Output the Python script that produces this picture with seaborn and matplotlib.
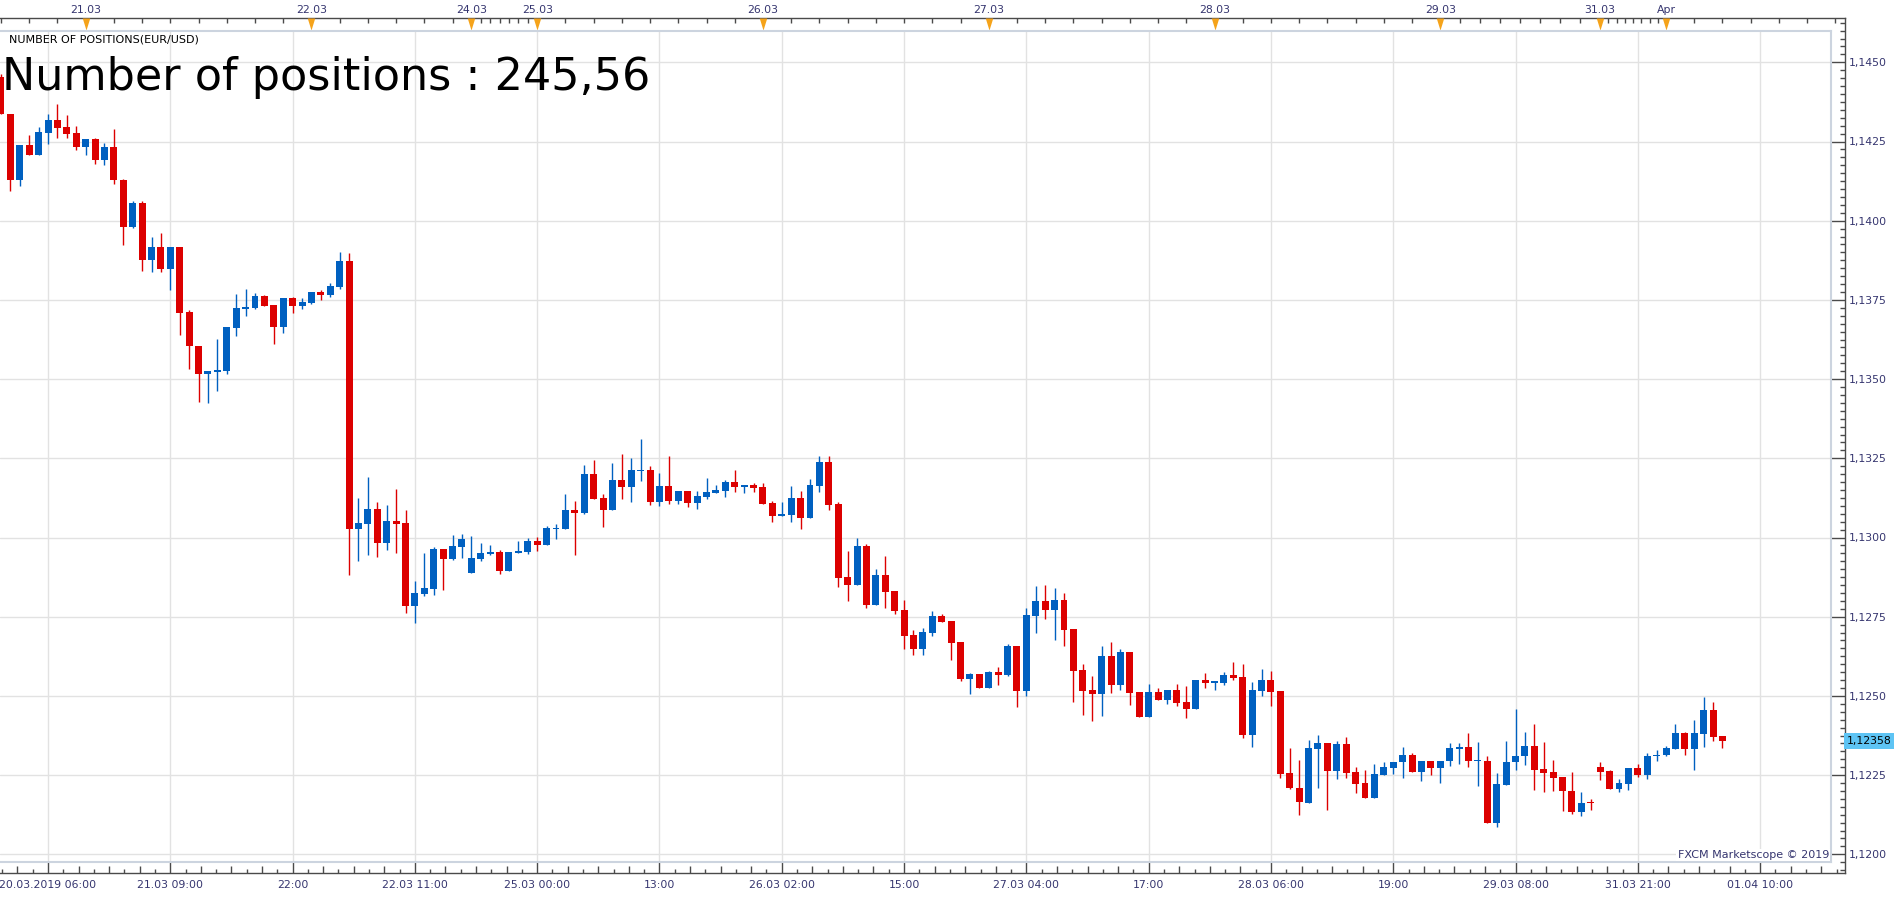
import numpy as np
import matplotlib
matplotlib.use("Agg")
import matplotlib.pyplot as plt
import matplotlib.transforms as mtransforms
from matplotlib.ticker import MultipleLocator, FuncFormatter
import seaborn as sns

# hourly EUR/USD candles (20.03.2019 - 01.04.2019)
opens = [1.14455, 1.14337, 1.14127, 1.14239, 1.14206, 1.14278, 1.14318, 1.14296, 1.14277, 1.14234,
         1.14258, 1.14193, 1.14233, 1.14129, 1.13981, 1.14056, 1.13877, 1.13917, 1.13848, 1.13917,
         1.13712, 1.13605, 1.13516, 1.13523, 1.13526, 1.13662, 1.13722, 1.13725, 1.13763, 1.13734,
         1.13665, 1.13756, 1.13731, 1.13741, 1.13775, 1.13766, 1.13791, 1.13873, 1.13027, 1.13043,
         1.13090, 1.12983, 1.13052, 1.13046, 1.12784, 1.12822, 1.12838, 1.12964, 1.12932, 1.12970,
         1.12888, 1.12932, 1.12948, 1.12954, 1.12894, 1.12951, 1.12954, 1.12989, 1.12976, 1.13027,
         1.13027, 1.13087, 1.13077, 1.13200, 1.13125, 1.13087, 1.13181, 1.13159, 1.13210, 1.13213,
         1.13112, 1.13162, 1.13115, 1.13147, 1.13109, 1.13128, 1.13140, 1.13147, 1.13175, 1.13159,
         1.13166, 1.13159, 1.13109, 1.13068, 1.13071, 1.13125, 1.13063, 1.13164, 1.13238, 1.13106,
         1.12875, 1.12851, 1.12973, 1.12788, 1.12882, 1.12831, 1.12771, 1.12692, 1.12649, 1.12700,
         1.12752, 1.12736, 1.12670, 1.12554, 1.12569, 1.12526, 1.12576, 1.12567, 1.12657, 1.12516,
         1.12753, 1.12800, 1.12772, 1.12803, 1.12711, 1.12582, 1.12519, 1.12507, 1.12626, 1.12535,
         1.12639, 1.12512, 1.12434, 1.12512, 1.12488, 1.12519, 1.12481, 1.12460, 1.12550, 1.12542,
         1.12542, 1.12566, 1.12560, 1.12377, 1.12516, 1.12550, 1.12516, 1.12257, 1.12210, 1.12161,
         1.12332, 1.12350, 1.12264, 1.12347, 1.12260, 1.12224, 1.12177, 1.12251, 1.12273, 1.12290,
         1.12314, 1.12261, 1.12295, 1.12273, 1.12293, 1.12332, 1.12340, 1.12293, 1.12295, 1.12099,
         1.12218, 1.12290, 1.12309, 1.12343, 1.12269, 1.12260, 1.12243, 1.12201, 1.12134, 1.12163,
         1.12276, 1.12263, 1.12205, 1.12222, 1.12272, 1.12251, 1.12309, 1.12312, 1.12332, 1.12382,
         1.12332, 1.12380, 1.12456, 1.12372]
highs = [1.14462, 1.14337, 1.14239, 1.14271, 1.14296, 1.14337, 1.14368, 1.14334, 1.14299, 1.14258,
         1.14262, 1.14246, 1.14290, 1.14132, 1.14063, 1.14063, 1.13949, 1.13962, 1.13917, 1.13917,
         1.13719, 1.13605, 1.13526, 1.13627, 1.13665, 1.13769, 1.13785, 1.13772, 1.13766, 1.13734,
         1.13756, 1.13760, 1.13756, 1.13775, 1.13782, 1.13804, 1.13902, 1.13898, 1.13125, 1.13191,
         1.13112, 1.13103, 1.13153, 1.13087, 1.12863, 1.12951, 1.12970, 1.12964, 1.13008, 1.13011,
         1.13005, 1.12983, 1.12976, 1.12961, 1.12954, 1.12989, 1.12998, 1.13002, 1.13036, 1.13043,
         1.13137, 1.13115, 1.13229, 1.13244, 1.13137, 1.13235, 1.13263, 1.13251, 1.13311, 1.13226,
         1.13204, 1.13257, 1.13147, 1.13147, 1.13147, 1.13188, 1.13166, 1.13181, 1.13213, 1.13166,
         1.13172, 1.13172, 1.13115, 1.13112, 1.13162, 1.13147, 1.13185, 1.13257, 1.13257, 1.13112,
         1.12957, 1.12998, 1.12980, 1.12900, 1.12942, 1.12831, 1.12803, 1.12708, 1.12714, 1.12768,
         1.12759, 1.12736, 1.12670, 1.12573, 1.12569, 1.12580, 1.12592, 1.12665, 1.12657, 1.12777,
         1.12848, 1.12850, 1.12842, 1.12825, 1.12711, 1.12601, 1.12563, 1.12656, 1.12671, 1.12648,
         1.12639, 1.12512, 1.12538, 1.12526, 1.12519, 1.12538, 1.12532, 1.12550, 1.12573, 1.12548,
         1.12576, 1.12608, 1.12602, 1.12545, 1.12586, 1.12580, 1.12516, 1.12334, 1.12298, 1.12360,
         1.12376, 1.12350, 1.12357, 1.12370, 1.12276, 1.12266, 1.12285, 1.12292, 1.12292, 1.12340,
         1.12321, 1.12295, 1.12295, 1.12295, 1.12350, 1.12350, 1.12382, 1.12353, 1.12311, 1.12258,
         1.12357, 1.12460, 1.12385, 1.12411, 1.12353, 1.12298, 1.12243, 1.12260, 1.12198, 1.12173,
         1.12292, 1.12266, 1.12237, 1.12272, 1.12285, 1.12321, 1.12330, 1.12343, 1.12411, 1.12385,
         1.12424, 1.12495, 1.12482, 1.12372]
lows = [1.14336, 1.14095, 1.14111, 1.14206, 1.14206, 1.14243, 1.14262, 1.14262, 1.14224, 1.14208,
        1.14180, 1.14177, 1.14117, 1.13924, 1.13978, 1.13842, 1.13838, 1.13838, 1.13782, 1.13640,
        1.13532, 1.13428, 1.13425, 1.13463, 1.13516, 1.13636, 1.13700, 1.13722, 1.13731, 1.13611,
        1.13646, 1.13709, 1.13722, 1.13737, 1.13750, 1.13760, 1.13785, 1.12882, 1.12926, 1.12945,
        1.12939, 1.12961, 1.12951, 1.12762, 1.12730, 1.12815, 1.12819, 1.12835, 1.12929, 1.12936,
        1.12888, 1.12926, 1.12945, 1.12885, 1.12894, 1.12951, 1.12948, 1.12957, 1.12976, 1.12996,
        1.13027, 1.12945, 1.13074, 1.13121, 1.13033, 1.13087, 1.13121, 1.13112, 1.13178, 1.13103,
        1.13099, 1.13106, 1.13106, 1.13096, 1.13090, 1.13121, 1.13140, 1.13128, 1.13144, 1.13140,
        1.13144, 1.13106, 1.13049, 1.13068, 1.13049, 1.13028, 1.13063, 1.13145, 1.13088, 1.12845,
        1.12800, 1.12851, 1.12778, 1.12788, 1.12778, 1.12759, 1.12649, 1.12630, 1.12630, 1.12690,
        1.12734, 1.12614, 1.12548, 1.12507, 1.12526, 1.12526, 1.12535, 1.12564, 1.12466, 1.12501,
        1.12697, 1.12744, 1.12678, 1.12658, 1.12482, 1.12441, 1.12422, 1.12438, 1.12510, 1.12520,
        1.12472, 1.12434, 1.12434, 1.12488, 1.12475, 1.12469, 1.12431, 1.12460, 1.12526, 1.12520,
        1.12535, 1.12551, 1.12368, 1.12340, 1.12501, 1.12469, 1.12242, 1.12207, 1.12124, 1.12161,
        1.12208, 1.12140, 1.12238, 1.12241, 1.12193, 1.12177, 1.12177, 1.12251, 1.12254, 1.12241,
        1.12261, 1.12231, 1.12251, 1.12225, 1.12280, 1.12286, 1.12277, 1.12215, 1.12099, 1.12086,
        1.12218, 1.12267, 1.12283, 1.12202, 1.12196, 1.12199, 1.12138, 1.12128, 1.12122, 1.12141,
        1.12235, 1.12205, 1.12196, 1.12202, 1.12244, 1.12238, 1.12296, 1.12309, 1.12332, 1.12314,
        1.12267, 1.12338, 1.12357, 1.12337]
closes = [1.14336, 1.14127, 1.14239, 1.14206, 1.14280, 1.14318, 1.14294, 1.14275, 1.14234, 1.14258,
          1.14193, 1.14233, 1.14127, 1.13981, 1.14056, 1.13877, 1.13917, 1.13848, 1.13917, 1.13710,
          1.13603, 1.13516, 1.13526, 1.13529, 1.13665, 1.13725, 1.13728, 1.13763, 1.13731, 1.13665,
          1.13756, 1.13731, 1.13744, 1.13775, 1.13766, 1.13794, 1.13873, 1.13027, 1.13046, 1.13090,
          1.12983, 1.13052, 1.13043, 1.12784, 1.12825, 1.12841, 1.12964, 1.12932, 1.12973, 1.12996,
          1.12936, 1.12951, 1.12954, 1.12894, 1.12954, 1.12957, 1.12989, 1.12976, 1.13030, 1.13030,
          1.13087, 1.13077, 1.13200, 1.13121, 1.13087, 1.13181, 1.13159, 1.13213, 1.13213, 1.13112,
          1.13162, 1.13115, 1.13147, 1.13109, 1.13131, 1.13144, 1.13150, 1.13175, 1.13159, 1.13166,
          1.13156, 1.13106, 1.13068, 1.13074, 1.13125, 1.13063, 1.13166, 1.13238, 1.13104, 1.12873,
          1.12851, 1.12973, 1.12788, 1.12882, 1.12829, 1.12769, 1.12690, 1.12649, 1.12702, 1.12752,
          1.12734, 1.12668, 1.12554, 1.12569, 1.12526, 1.12576, 1.12567, 1.12657, 1.12516, 1.12755,
          1.12800, 1.12772, 1.12803, 1.12709, 1.12580, 1.12516, 1.12507, 1.12626, 1.12535, 1.12639,
          1.12510, 1.12434, 1.12512, 1.12488, 1.12519, 1.12479, 1.12460, 1.12550, 1.12542, 1.12545,
          1.12566, 1.12557, 1.12377, 1.12519, 1.12550, 1.12513, 1.12254, 1.12210, 1.12165, 1.12334,
          1.12350, 1.12264, 1.12347, 1.12258, 1.12222, 1.12177, 1.12253, 1.12276, 1.12292, 1.12314,
          1.12261, 1.12295, 1.12273, 1.12295, 1.12334, 1.12340, 1.12293, 1.12295, 1.12099, 1.12221,
          1.12292, 1.12311, 1.12343, 1.12267, 1.12258, 1.12241, 1.12199, 1.12134, 1.12162, 1.12161,
          1.12261, 1.12205, 1.12224, 1.12272, 1.12251, 1.12311, 1.12314, 1.12334, 1.12382, 1.12332,
          1.12382, 1.12456, 1.12370, 1.12358]

bottom_ticks = list(range(5, 188, 13))
bottom_labels = ["20.03.2019 06:00", "21.03 09:00", "22:00", "22.03 11:00", "25.03 00:00",
                 "13:00", "26.03 02:00", "15:00", "27.03 04:00", "17:00", "28.03 06:00",
                 "19:00", "29.03 08:00", "31.03 21:00", "01.04 10:00"]
day_ticks = [9, 33, 50, 57, 81, 105, 129, 153, 170, 177]
day_labels = ["21.03", "22.03", "24.03", "25.03", "26.03", "27.03", "28.03", "29.03", "31.03", "Apr"]
price_ticks = [1.1200, 1.1225, 1.1250, 1.1275, 1.1300, 1.1325, 1.1350, 1.1375, 1.1400, 1.1425, 1.1450]
last_price = 1.12358
positions_text = "Number of positions : 245,56"
indicator_name = "NUMBER OF POSITIONS(EUR/USD)"
copyright_text = "FXCM Marketscope \u00a9 2019"

RED = "#dc0000"
BLUE = "#0060c0"
ORANGE = "#f5a31a"
LABEL_C = "#35356f"
AXIS_C = "#4a4a4a"
GRID_C = "#e2e2e2"
FRAME_C = "#ccd4df"

# pixel geometry of the reference
W, H = 1903, 900
STEP, X0 = 9.407, 1.0
Y_REF, P_REF, PX_PER_MAJOR = 62.3, 1.1450, 79.2


def to_idx(px):
    return (px - X0) / STEP


def to_price(py):
    return P_REF - (py - Y_REF) * 0.0025 / PX_PER_MAJOR


def box(left, top, right, bottom):
    return [left / W, 1 - bottom / H, (right - left) / W, (bottom - top) / H]


def pt(px):
    return px * 0.72


sns.set_theme(style="white")
plt.rcParams["font.family"] = ["DejaVu Sans"]

fig = plt.figure(figsize=(W / 100, H / 100), dpi=100)
fig.patch.set_facecolor("white")

# outer axis frame: bottom time axis, right price axis
ax_out = fig.add_axes(box(0, 18, 1845, 873))
ax_out.set_zorder(1)
ax_out.patch.set_visible(False)
ax_out.spines["left"].set_visible(False)
for s in ["top", "right", "bottom"]:
    ax_out.spines[s].set_color(AXIS_C)
    ax_out.spines[s].set_linewidth(1)

xlim_out = (to_idx(0), to_idx(1845))
k = np.arange(-8, 16 * 8)
sub_pos = 5 + 13 / 8 * k
keep = (sub_pos > xlim_out[0]) & (sub_pos < xlim_out[1]) & (k % 8 != 0)
tall_minor = sub_pos[keep & (k % 2 == 0)]
short_minor = sub_pos[keep & (k % 2 == 1)]

ax_out.set_xticks(bottom_ticks, bottom_labels)
ax_out.set_xticks(tall_minor, minor=True)
ax_out.tick_params(axis="x", which="major", direction="in", length=pt(11), width=1,
                   color=AXIS_C, labelcolor=LABEL_C, labelsize=7.8, pad=5)
ax_out.tick_params(axis="x", which="minor", direction="in", length=pt(7), width=1, color=AXIS_C)
ax_out.yaxis.tick_right()
ax_out.set_yticks(price_ticks)
ax_out.yaxis.set_major_formatter(FuncFormatter(lambda v, p: f"{v:.4f}".replace(".", ",")))
ax_out.yaxis.set_minor_locator(MultipleLocator(0.00025))
ax_out.tick_params(axis="y", which="major", direction="in", length=pt(14), width=1,
                   color=AXIS_C, labelcolor=LABEL_C, labelsize=7.8, pad=3)
ax_out.tick_params(axis="y", which="minor", direction="in", length=pt(5), width=1, color=AXIS_C)
ax_out.set_xlim(*xlim_out)
ax_out.set_ylim(to_price(873), to_price(18))

# short ticks between the bottom ones
ax_sb = ax_out.twiny()
ax_sb.set_zorder(1)
ax_sb.xaxis.tick_bottom()
ax_sb.set_xlim(*xlim_out)
ax_sb.set_xticks(short_minor)
ax_sb.tick_params(axis="x", direction="in", length=pt(4), width=1, color=AXIS_C,
                  labelbottom=False, labeltop=False)
for s in ax_sb.spines.values():
    s.set_visible(False)

# top day axis
top_minor = np.concatenate([np.arange(0, 50, 3), np.arange(50, 57), np.arange(57, 153, 3),
                            np.linspace(153, 170, 9)[:-1], np.linspace(170, 177, 9)[:-1],
                            np.arange(177, 196, 3)])
ax_top = ax_out.twiny()
ax_top.set_zorder(2)
ax_top.set_xlim(*xlim_out)
ax_top.set_xticks(day_ticks, day_labels)
ax_top.set_xticks(top_minor, minor=True)
ax_top.tick_params(axis="x", which="major", length=0, labelcolor=LABEL_C, labelsize=7.8, pad=2)
ax_top.tick_params(axis="x", which="minor", direction="in", length=pt(5), width=1, color=AXIS_C)
for s in ax_top.spines.values():
    s.set_visible(False)
tri = [(-0.62, 1.0), (0.62, 1.0), (0.0, -1.0)]
ax_top.scatter(day_ticks, [to_price(24)] * len(day_ticks), marker=tri, s=pt(12) ** 2,
               color=ORANGE, linewidths=0, clip_on=False, zorder=5)

# inner chart
ax = fig.add_axes(box(0, 31, 1831, 862))
ax.set_zorder(3)
ax.set_facecolor("white")
ax.spines["left"].set_visible(False)
for s in ["top", "right", "bottom"]:
    ax.spines[s].set_color(FRAME_C)
    ax.spines[s].set_linewidth(1.5)
ax.set_xticks(bottom_ticks)
ax.set_yticks(price_ticks)
ax.grid(True, color=GRID_C, linewidth=1.0)
ax.set_axisbelow(True)
ax.tick_params(length=0, labelbottom=False, labelleft=False)

idx = np.arange(len(opens))
o = np.array(opens)
h = np.array(highs)
l = np.array(lows)
c = np.array(closes)
colors = np.where(c > o, BLUE, RED)
body_low = np.minimum(o, c)
body_h = np.maximum(np.abs(c - o), 0.000035)
ax.vlines(idx, l, h, colors=colors, linewidth=1.0, zorder=2)
ax.bar(idx, body_h, bottom=body_low, width=0.74, color=colors, linewidth=0, zorder=3)
ax.set_xlim(to_idx(0), to_idx(1831))
ax.set_ylim(to_price(862), to_price(31))

# texts
fig.text(9 / W, 1 - 39 / H, indicator_name, fontsize=8, color="black", va="center", ha="left")
fig.text(2 / W, 1 - 90 / H, positions_text, fontsize=32, color="black", va="baseline", ha="left")
fig.text(1829 / W, 1 - 855 / H, copyright_text, fontsize=8, color=LABEL_C, va="center", ha="right",
         bbox=dict(facecolor="white", edgecolor="none", pad=1))
price_tr = mtransforms.blended_transform_factory(fig.transFigure, ax_out.transData)
ax_out.text(1869 / W, last_price, f"{last_price:.5f}".replace(".", ","), transform=price_tr,
            fontsize=7.8, color="black", ha="center", va="center", zorder=10, clip_on=False,
            bbox=dict(facecolor="#5ec4f4", edgecolor="none", boxstyle="square,pad=0.25"))

fig.savefig("out.png", dpi=100, facecolor="white")
